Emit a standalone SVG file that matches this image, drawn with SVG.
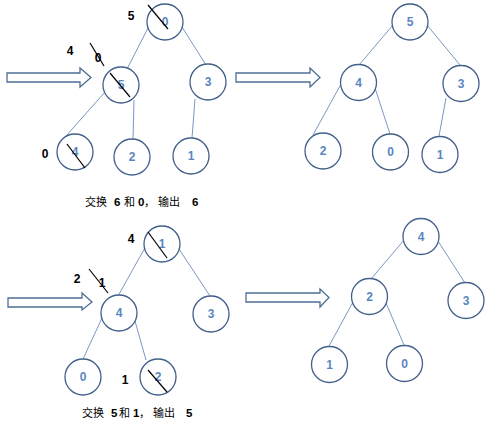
<svg xmlns="http://www.w3.org/2000/svg" width="493" height="424" viewBox="0 0 493 424">
<style>
.n{fill:#fff;stroke:#41608a;stroke-width:1.3}
.t{font-family:"Liberation Sans","DejaVu Sans",sans-serif;font-size:12px;font-weight:bold;fill:#5a86c0;text-anchor:middle}
.l{font-family:"Liberation Sans","DejaVu Sans",sans-serif;font-size:12px;font-weight:bold;fill:#000;text-anchor:middle}
.e{stroke:#7a98c4;stroke-width:1;fill:none}
.x{stroke:#000;stroke-width:1.2}
.a{fill:#fff;stroke:#4f6e96;stroke-width:1.3}
.c{font-family:"Noto Sans CJK SC","Liberation Sans",sans-serif;font-size:11px;fill:#000}
.cb{font-family:"Liberation Sans",sans-serif;font-weight:bold;font-size:11.5px}
</style>
<rect width="493" height="424" fill="#fff"/>
<g id="connectors">
<line class="e" x1="148" y1="28" x2="127" y2="69"/>
<line class="e" x1="182" y1="27" x2="206" y2="65"/>
<line class="e" x1="105" y1="92" x2="66" y2="136"/>
<line class="e" x1="134" y1="100" x2="133" y2="140"/>
<line class="e" x1="195" y1="99" x2="192" y2="138"/>
<line class="e" x1="393" y1="25" x2="359" y2="65"/>
<line class="e" x1="427" y1="25" x2="460" y2="65"/>
<line class="e" x1="341" y1="84" x2="313" y2="135"/>
<line class="e" x1="375" y1="88" x2="390" y2="134"/>
<line class="e" x1="446" y1="98" x2="439" y2="136"/>
<line class="e" x1="146" y1="246" x2="118" y2="296"/>
<line class="e" x1="179" y1="249" x2="210" y2="296"/>
<line class="e" x1="102" y1="318" x2="83" y2="359"/>
<line class="e" x1="135" y1="321" x2="146" y2="360"/>
<line class="e" x1="404" y1="240" x2="371" y2="279"/>
<line class="e" x1="438" y1="241" x2="465" y2="283"/>
<line class="e" x1="353" y1="302" x2="329" y2="346"/>
<line class="e" x1="386" y1="303" x2="404" y2="345"/>
</g>
<g id="arrows">
<path class="a" d="M7,73 H80 V68 L91,77.5 L80,87 V82 H7 Z"/>
<path class="a" d="M236,73 H310 V68 L320,77.5 L310,87 V82 H236 Z"/>
<path class="a" d="M8,298 H82 V293 L92,302 L82,310 V307 H8 Z"/>
<path class="a" d="M246,293 H320 V289 L329,297.5 L320,307 V302 H246 Z"/>
</g>
<g id="t1-root"><circle class="n" cx="165" cy="22" r="18"/><text class="t" x="165" y="26">0</text><line class="x" x1="148" y1="5" x2="168" y2="29"/><text class="l" x="131" y="20">5</text></g>
<g id="t1-left"><circle class="n" cx="121" cy="85" r="18"/><text class="t" x="121" y="89">5</text><line class="x" x1="110" y1="73" x2="130" y2="97"/><text class="l" x="70" y="55">4</text><text class="l" x="98" y="62">0</text><line class="x" x1="90" y1="43" x2="104" y2="66"/></g>
<g id="t1-right"><circle class="n" cx="208" cy="82" r="18"/><text class="t" x="208" y="86">3</text></g>
<g id="t1-ll"><circle class="n" cx="75" cy="152" r="18"/><text class="t" x="75" y="156">4</text><line class="x" x1="67" y1="144" x2="85" y2="168"/><text class="l" x="45" y="158">0</text></g>
<g id="t1-lr"><circle class="n" cx="132" cy="157" r="18"/><text class="t" x="132" y="161">2</text></g>
<g id="t1-rl"><circle class="n" cx="191" cy="156" r="18"/><text class="t" x="191" y="160">1</text></g>
<text class="c" y="206"><tspan x="85">交换</tspan><tspan class="cb" x="114">6</tspan><tspan x="124">和</tspan><tspan class="cb" x="138">0</tspan><tspan x="144">，</tspan><tspan x="158">输出</tspan><tspan class="cb" x="192">6</tspan></text>
<g id="t2-root"><circle class="n" cx="410" cy="22" r="18"/><text class="t" x="410" y="26">5</text></g>
<g id="t2-left"><circle class="n" cx="358.5" cy="82.5" r="18"/><text class="t" x="358.5" y="86.5">4</text></g>
<g id="t2-right"><circle class="n" cx="461" cy="83.5" r="18"/><text class="t" x="461" y="87.5">3</text></g>
<g id="t2-ll"><circle class="n" cx="323" cy="151" r="18"/><text class="t" x="323" y="155">2</text></g>
<g id="t2-lr"><circle class="n" cx="390.5" cy="152" r="18"/><text class="t" x="390.5" y="156">0</text></g>
<g id="t2-rl"><circle class="n" cx="440" cy="154.5" r="18"/><text class="t" x="440" y="158.5">1</text></g>
<g id="t3-root"><circle class="n" cx="162" cy="244" r="18"/><text class="t" x="162" y="248">1</text><line class="x" x1="148" y1="232" x2="167" y2="258"/><text class="l" x="131" y="243">4</text></g>
<g id="t3-left"><circle class="n" cx="119" cy="313" r="18"/><text class="t" x="119" y="317">4</text><text class="l" x="77" y="283">2</text><text class="l" x="102" y="287">1</text><line class="x" x1="89" y1="269" x2="108" y2="293"/></g>
<g id="t3-right"><circle class="n" cx="211" cy="314" r="18"/><text class="t" x="211" y="318">3</text></g>
<g id="t3-ll"><circle class="n" cx="83" cy="377" r="18"/><text class="t" x="83" y="381">0</text></g>
<g id="t3-lr"><circle class="n" cx="158" cy="377" r="18"/><text class="t" x="158" y="381">2</text><line class="x" x1="148" y1="370" x2="167" y2="392"/><text class="l" x="125" y="384">1</text></g>
<text class="c" y="417"><tspan x="82">交换</tspan><tspan class="cb" x="111">5</tspan><tspan x="119">和</tspan><tspan class="cb" x="133">1</tspan><tspan x="139">，</tspan><tspan x="153">输出</tspan><tspan class="cb" x="186">5</tspan></text>
<g id="t4-root"><circle class="n" cx="421" cy="236.5" r="18"/><text class="t" x="421" y="240.5">4</text></g>
<g id="t4-left"><circle class="n" cx="369.5" cy="296.5" r="18"/><text class="t" x="369.5" y="300.5">2</text></g>
<g id="t4-right"><circle class="n" cx="466" cy="300.5" r="18"/><text class="t" x="466" y="304.5">3</text></g>
<g id="t4-ll"><circle class="n" cx="329.5" cy="364.5" r="18"/><text class="t" x="329.5" y="368.5">1</text></g>
<g id="t4-lr"><circle class="n" cx="404.5" cy="363.5" r="18"/><text class="t" x="404.5" y="367.5">0</text></g>
</svg>
